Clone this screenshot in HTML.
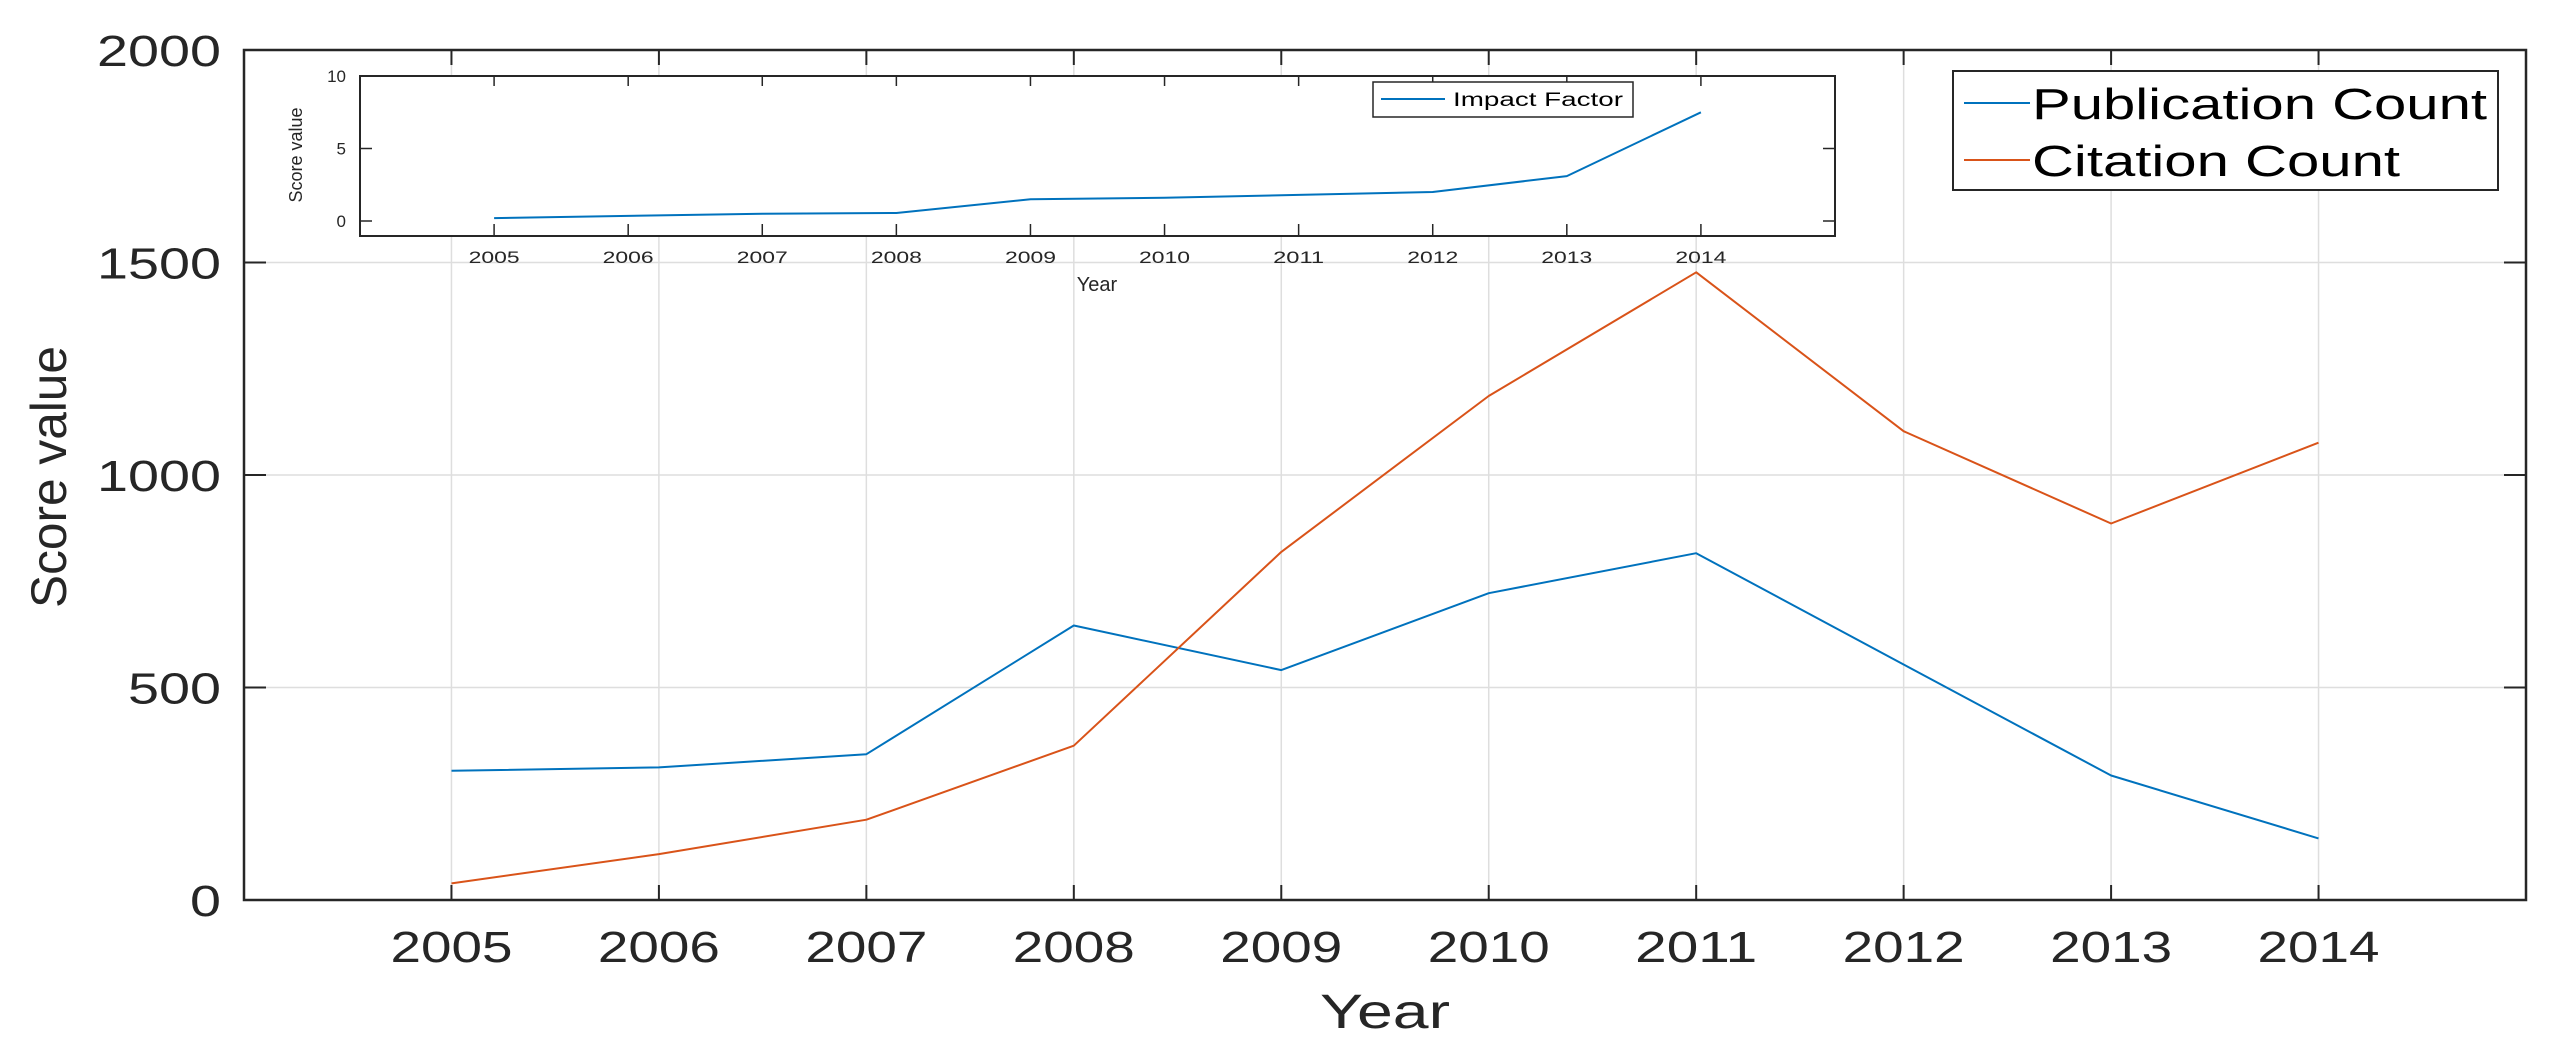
<!DOCTYPE html>
<html><head><meta charset="utf-8"><style>
html,body{margin:0;padding:0;background:#fff;}
svg{display:block;font-family:"Liberation Sans",Arial,sans-serif;}
</style></head><body>
<svg id="chart" width="2567" height="1043" viewBox="0 0 2567 1043" xmlns="http://www.w3.org/2000/svg">
<g id="main"></g>
<g id="inset"></g>
</svg>
<script>
const years = [2005,2006,2007,2008,2009,2010,2011,2012,2013,2014];
const publicationCount = [304,312,343,646,541,722,816,554,293,145];
const citationCount = [39,108,189,363,819,1186,1477,1103,886,1076];
const impactFactor = [0.2,0.35,0.5,0.55,1.5,1.6,1.8,2.0,3.1,7.5];
const mainYTicks = [0,500,1000,1500,2000];
const insetYTicks = [0,5,10];

const NS = 'http://www.w3.org/2000/svg';
function mk(parent, tag, attrs, text){
  const e = document.createElementNS(NS, tag);
  for (const k in attrs) e.setAttribute(k, attrs[k]);
  if (text !== undefined) e.textContent = text;
  parent.appendChild(e);
  return e;
}
const BLUE = '#0072BD', ORANGE = '#D95319', AX = '#262626';

// ---------- main axes ----------
const M = {l:244, r:2526, t:50, b:900};
const mx = v => M.l + (v - 2004) / 11 * (M.r - M.l);
const my = v => M.b - v / 2000 * (M.b - M.t);
const gm = document.getElementById('main');

years.forEach(y => {
  const g = mk(gm, 'line', {x1:mx(y), x2:mx(y), y1:M.t, y2:M.b, stroke:'#dedede', 'stroke-width':1.5});
  
  
});
mainYTicks.forEach(v => {
  const g = mk(gm, 'line', {x1:M.l, x2:M.r, y1:my(v), y2:my(v), stroke:'#dedede', 'stroke-width':1.5});
  
  
});

function series(parent, xs, ys, fx, fy, color, w, name){
  const d = xs.map((x,i) => (i ? 'L' : 'M') + fx(x).toFixed(1) + ' ' + fy(ys[i]).toFixed(1)).join(' ');
  const p = mk(parent, 'path', {d:d, fill:'none', stroke:color, 'stroke-width':w, 'stroke-linejoin':'round'});
  
  
}
series(gm, years, publicationCount, mx, my, BLUE, 2, 'publication-count-line');
series(gm, years, citationCount, mx, my, ORANGE, 2, 'citation-count-line');

const box = mk(gm, 'rect', {x:M.l, y:M.t, width:M.r-M.l, height:M.b-M.t, fill:'none', stroke:AX, 'stroke-width':2.5});



years.forEach(y => {
  mk(gm, 'line', {x1:mx(y), x2:mx(y), y1:M.b, y2:M.b-15, stroke:AX, 'stroke-width':2});
  mk(gm, 'line', {x1:mx(y), x2:mx(y), y1:M.t, y2:M.t+15, stroke:AX, 'stroke-width':2});
  const t = mk(gm, 'text', {x:mx(y), y:962, 'text-anchor':'middle', 'font-size':44, fill:AX, textLength:122, lengthAdjust:'spacingAndGlyphs'}, String(y));
  
  
});
mainYTicks.forEach(v => {
  mk(gm, 'line', {x1:M.l, x2:M.l+22, y1:my(v), y2:my(v), stroke:AX, 'stroke-width':2});
  mk(gm, 'line', {x1:M.r, x2:M.r-22, y1:my(v), y2:my(v), stroke:AX, 'stroke-width':2});
  const s = String(v);
  const t = mk(gm, 'text', {x:221, y:my(v)+16, 'text-anchor':'end', 'font-size':44, fill:AX, textLength:31*s.length, lengthAdjust:'spacingAndGlyphs'}, s);
  
  
});
const xt = mk(gm, 'text', {x:1385, y:1028, 'text-anchor':'middle', 'font-size':48, fill:AX, textLength:130, lengthAdjust:'spacingAndGlyphs'}, 'Year');


const yt = mk(gm, 'text', {x:0, y:0, 'text-anchor':'middle', 'font-size':50, fill:AX, textLength:262, lengthAdjust:'spacingAndGlyphs', transform:'translate(66,477) rotate(-90)'}, 'Score value');



// main legend
const lg = mk(gm, 'g', {});


mk(lg, 'rect', {x:1953, y:71, width:545, height:119, fill:'#fff', stroke:AX, 'stroke-width':2});
mk(lg, 'line', {x1:1964, x2:2030, y1:103, y2:103, stroke:BLUE, 'stroke-width':2});
mk(lg, 'line', {x1:1964, x2:2030, y1:160, y2:160, stroke:ORANGE, 'stroke-width':2});
const l1 = mk(lg, 'text', {x:2032, y:119, 'font-size':44, fill:'#000', textLength:455, lengthAdjust:'spacingAndGlyphs'}, 'Publication Count');


const l2 = mk(lg, 'text', {x:2032, y:176, 'font-size':44, fill:'#000', textLength:368, lengthAdjust:'spacingAndGlyphs'}, 'Citation Count');



// ---------- inset axes ----------
const I = {l:360, r:1835, t:76, b:236};
const ix = v => I.l + (v - 2004) / 11 * (I.r - I.l);
const iy = v => 221 - v / 10 * (221 - 76);
const gi = document.getElementById('inset');
mk(gi, 'rect', {x:I.l, y:I.t, width:I.r-I.l, height:I.b-I.t, fill:'#fff', stroke:'none'});
series(gi, years, impactFactor, ix, iy, BLUE, 2, 'impact-factor-line');
const ib = mk(gi, 'rect', {x:I.l, y:I.t, width:I.r-I.l, height:I.b-I.t, fill:'none', stroke:AX, 'stroke-width':2});


years.forEach(y => {
  mk(gi, 'line', {x1:ix(y), x2:ix(y), y1:I.b, y2:I.b-12, stroke:AX, 'stroke-width':1.5});
  mk(gi, 'line', {x1:ix(y), x2:ix(y), y1:I.t, y2:I.t+10, stroke:AX, 'stroke-width':1.5});
  const t = mk(gi, 'text', {x:ix(y), y:263, 'text-anchor':'middle', 'font-size':17, fill:AX, textLength:51, lengthAdjust:'spacingAndGlyphs'}, String(y));
  
  
});
insetYTicks.forEach(v => {
  mk(gi, 'line', {x1:I.l, x2:I.l+12, y1:iy(v), y2:iy(v), stroke:AX, 'stroke-width':1.5});
  mk(gi, 'line', {x1:I.r, x2:I.r-12, y1:iy(v), y2:iy(v), stroke:AX, 'stroke-width':1.5});
  const t = mk(gi, 'text', {x:346, y:iy(v)+6, 'text-anchor':'end', 'font-size':17, fill:AX}, String(v));
  
  
});
const ixt = mk(gi, 'text', {x:1097, y:291, 'text-anchor':'middle', 'font-size':20, fill:AX}, 'Year');


const iyt = mk(gi, 'text', {x:0, y:0, 'text-anchor':'middle', 'font-size':18, fill:AX, transform:'translate(302,155) rotate(-90)'}, 'Score value');


const il = mk(gi, 'g', {});


mk(il, 'rect', {x:1373, y:82, width:260, height:35, fill:'#fff', stroke:AX, 'stroke-width':1.5});
mk(il, 'line', {x1:1381, x2:1445, y1:99, y2:99, stroke:BLUE, 'stroke-width':2});
const ilt = mk(il, 'text', {x:1453, y:106, 'font-size':19, fill:'#000', textLength:170, lengthAdjust:'spacingAndGlyphs'}, 'Impact Factor');


</script>
</body></html>
